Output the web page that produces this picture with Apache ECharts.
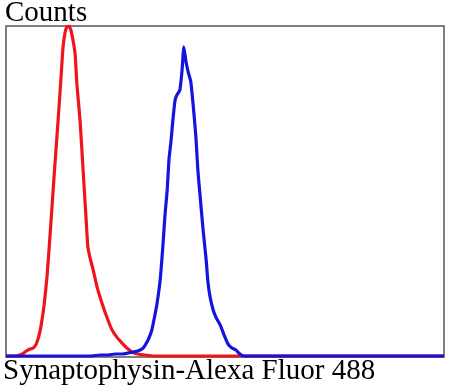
<!DOCTYPE html>
<html><head><meta charset="utf-8">
<script src="https://cdn.jsdelivr.net/npm/echarts@6/dist/echarts.min.js"></script>
<style>html,body{margin:0;padding:0;background:#fff}#c{width:450px;height:391px}</style>
</head><body><div id="c"></div>
<script>
// Fluorescence channel (0-1000) and counts (0-1000, normalised to the highest peak)
const redX = [0,20,37,46,55,62,69,75,80,87,94,103,110,119,126,130,135,139,144,148,153,158,162,169,176,183,187,192,199,208,219,231,242,253,265,276,288,301,317,340,400,500,600,700,800,900,1000];
const redY = [3,3,9,18,24,27,39,63,94,157,248,414,550,716,852,933,982,997,1000,988,957,912,822,716,565,414,332,299,263,211,163,118,82,60,42,27,15,9,6,3,3,3,3,3,3,3,3];
const blueX = [0,100,192,215,233,249,265,279,290,301,313,322,329,333,340,345,352,358,363,368,372,377,381,386,390,397,402,406,411,416,422,429,434,438,443,450,457,461,466,473,480,489,498,507,516,525,534,543,600,700,800,900,1000];
const blueY = [3,3,3,6,6,9,9,12,15,18,27,45,66,82,127,163,233,332,429,504,595,656,716,776,791,807,867,937,891,861,831,737,656,565,489,384,293,227,181,142,118,97,66,39,27,21,9,3,3,3,3,3,3];
const xLabel = 'Synaptophysin-Alexa Fluor 488';
const yLabel = 'Counts';

const pair = (xs, ys) => xs.map((x, i) => [x, ys[i]]);
const chart = echarts.init(document.getElementById('c'));
chart.setOption({
  animation: false,
  grid: {left: 6, top: 26, right: 6, bottom: 34, show: true, borderColor: '#555', borderWidth: 1.5, backgroundColor: '#fff'},
  xAxis: {type: 'value', min: 0, max: 1000, axisLine: {show: false}, axisTick: {show: false}, axisLabel: {show: false}, splitLine: {show: false}},
  yAxis: {type: 'value', min: 0, max: 1000, axisLine: {show: false}, axisTick: {show: false}, axisLabel: {show: false}, splitLine: {show: false}},
  graphic: [
    {type: 'text', left: 5, top: -1, style: {text: yLabel, font: '29px "Liberation Serif", serif', fill: '#000'}},
    {type: 'text', left: 3, top: 357, style: {text: xLabel, font: '29px "Liberation Serif", serif', fill: '#000'}}
  ],
  series: [
    {type: 'line', data: pair(redX, redY), showSymbol: false, smooth: 0.15, lineStyle: {color: '#f0141a', width: 3.2}, z: 3},
    {type: 'line', data: pair(blueX, blueY), showSymbol: false, smooth: 0.15, lineStyle: {color: '#1414e0', width: 3.2}, z: 4}
  ]
});
</script></body></html>
